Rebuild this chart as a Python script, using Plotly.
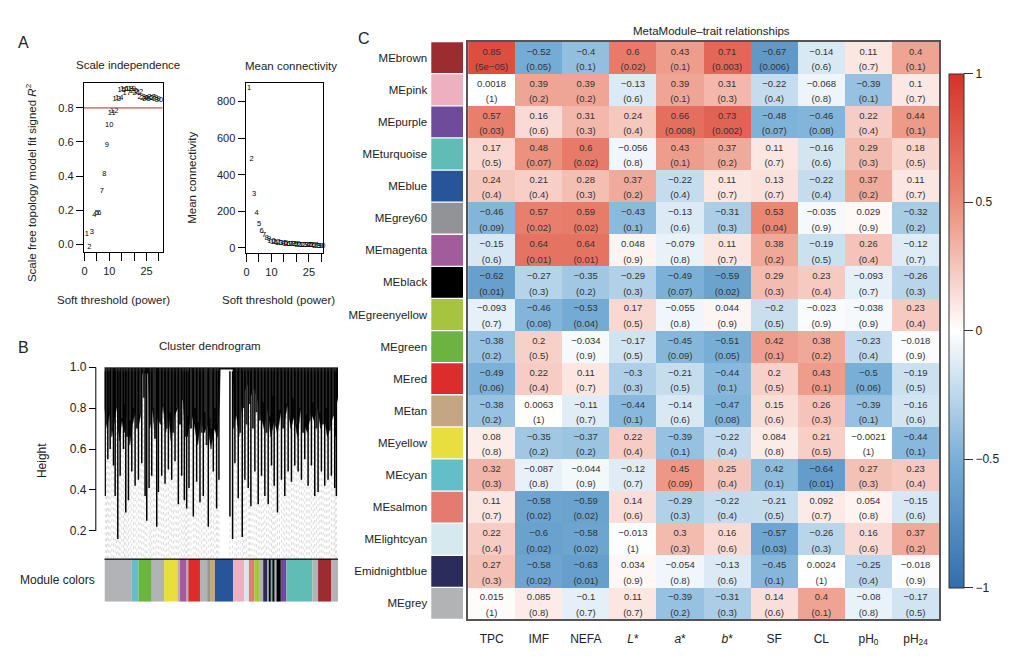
import plotly.graph_objects as go

W, H = 1015, 664
FONT = "Liberation Sans, Arial, sans-serif"
TXT = "#222222"

# ---------------- Panel A data ----------------
powers = list(range(1, 31))
sft_r2 = [0.062, -0.015, 0.073, 0.17, 0.18, 0.185, 0.31, 0.41, 0.58, 0.70,
          0.77, 0.78, 0.85, 0.857, 0.905, 0.91, 0.886, 0.91, 0.912, 0.90,
          0.886, 0.89, 0.866, 0.857, 0.85, 0.86, 0.863, 0.857, 0.85, 0.845]
mean_k = [876, 484, 293, 190, 130, 90, 68, 54, 45, 36,
          32, 29, 27, 25, 23, 21, 20, 19, 18, 17,
          16, 15, 14, 13.5, 13, 12, 11.5, 11, 10.5, 10]
r2_cutoff = 0.8

# ---------------- Panel B data ----------------
leaf_x = [2, 10, 17, 27, 32, 40, 47, 57, 64, 72, 82, 92, 102, 112, 122, 127, 134, 142,
          157, 162, 172, 182, 192, 202, 212, 222, 232, 240, 247, 254, 267, 277, 287, 297,
          312, 327, 337, 344, 377, 385, 392, 402, 414, 422, 432, 440, 452, 462, 472, 482,
          492, 502, 510, 520, 532, 542, 552, 562, 572, 582, 592, 602, 612, 622, 632, 642,
          652, 662, 672, 682, 692, 697]
leaf_h = [0.37, 0.55, 0.60, 0.52, 0.37, 0.16, 0.47, 0.60, 0.29, 0.35, 0.49, 0.42, 0.45, 0.53,
          0.37, 0.25, 0.41, 0.47, 0.22, 0.39, 0.47, 0.43, 0.50, 0.45, 0.54, 0.33, 0.47, 0.35,
          0.31, 0.41, 0.27, 0.44, 0.34, 0.37, 0.22, 0.49, 0.31, 0.45, 0.27, 0.16, 0.53, 0.36,
          0.17, 0.45, 0.41, 0.32, 0.49, 0.33, 0.47, 0.37, 0.33, 0.52, 0.42, 0.29, 0.45, 0.37,
          0.49, 0.44, 0.52, 0.49, 0.45, 0.55, 0.42, 0.52, 0.37, 0.39, 0.49, 0.42, 0.45, 0.47,
          0.41, 0.37]
branch_x = [6, 13, 22, 36, 44, 52, 60, 68, 77, 87, 97, 107, 118, 138, 147, 152, 167, 177,
            187, 197, 207, 217, 227, 236, 244, 251, 260, 272, 282, 292, 302, 307, 318, 322,
            332, 340, 397, 408, 418, 427, 436, 446, 457, 467, 477, 487, 497, 506, 515, 526,
            537, 547, 557, 567, 577, 587, 597, 607, 617, 627, 637, 647, 657, 667, 677, 687, 694]
branch_h = [0.72, 0.78, 0.70, 0.80, 0.68, 0.75, 0.82, 0.66, 0.74, 0.80, 0.70, 0.77, 0.85,
            0.72, 0.80, 0.65, 0.74, 0.82, 0.70, 0.78, 0.68, 0.80, 0.72, 0.84, 0.66, 0.76,
            0.70, 0.80, 0.73, 0.68, 0.78, 0.62, 0.75, 0.70, 0.80, 0.72, 0.76, 0.68, 0.80,
            0.72, 0.82, 0.70, 0.78, 0.74, 0.83, 0.68, 0.76, 0.86, 0.72, 0.79, 0.70, 0.82,
            0.75, 0.85, 0.72, 0.80, 0.68, 0.77, 0.74, 0.83, 0.70, 0.78, 0.72, 0.80, 0.69,
            0.76, 0.66]
# lower edge of the dense black mass of merged branches
canopy_x = [0, 8, 15, 22, 30, 38, 45, 52, 60, 68, 76, 84, 92, 100, 108, 112, 132,
            136, 144, 152, 160, 168, 176, 184, 192, 200, 210, 220, 226, 232, 240, 250, 260,
            270, 280, 290, 300, 310, 320, 330, 340, 346, 348, 386,
            388, 396, 404, 412, 420, 430, 440, 450, 460, 470, 480, 490, 500, 510, 520, 530,
            540, 550, 560, 570, 580, 590, 600, 610, 620, 630, 640, 650, 660, 670, 680, 690, 702]
canopy_h = [0.80, 0.70, 0.78, 0.66, 0.75, 0.82, 0.64, 0.74, 0.68, 0.80, 0.62, 0.72, 0.78,
            0.70, 0.76, 0.97, 0.97,
            0.70, 0.80, 0.66, 0.76, 0.72, 0.82, 0.68, 0.78, 0.64, 0.76, 0.80, 0.95, 0.95,
            0.74, 0.66, 0.78, 0.72, 0.62, 0.75, 0.68, 0.72, 0.60, 0.70, 0.66, 0.85, 0.99, 0.99,
            0.70, 0.78, 0.66, 0.80, 0.88, 0.92, 0.86, 0.90, 0.84, 0.76, 0.70, 0.80, 0.66,
            0.74, 0.68, 0.78, 0.72, 0.82, 0.70, 0.76, 0.66, 0.80, 0.72, 0.68, 0.78, 0.74,
            0.80, 0.70, 0.76, 0.66, 0.72, 0.78, 0.85]
guide_bottom = 0.067

bar_colors = ["#b1b3b5", "#62bfc9", "#6cb33f", "#b1b3b5", "#e8df3e", "#b1b3b5", "#a35c9b",
              "#b1b3b5", "#dc2c2c", "#b1b3b5", "#929396", "#c4a584", "#28559a", "#eeb0c0",
              "#d5e9ef", "#e57a71", "#a7c43f", "#b1b3b5", "#2b2b5c", "#b1b3b5", "#000000",
              "#5fbdb5", "#000000", "#b1b3b5", "#000000", "#6f4c9b", "#5fbdb5", "#b1b3b5",
              "#9b2d30", "#b1b3b5"]
bar_widths = [82, 20, 40, 37, 40, 8, 20, 5, 35, 25, 5, 15, 55, 33, 14, 16, 17, 10, 13, 4, 6,
              7, 5, 5, 13, 17, 78, 17, 40, 20]

# ---------------- Panel C data ----------------
modules = ["MEbrown", "MEpink", "MEpurple", "MEturquoise", "MEblue", "MEgrey60", "MEmagenta",
           "MEblack", "MEgreenyellow", "MEgreen", "MEred", "MEtan", "MEyellow", "MEcyan",
           "MEsalmon", "MElightcyan", "Emidnightblue", "MEgrey"]
module_colors = ["#9b2d30", "#eeb0c0", "#6f4c9b", "#5fbdb5", "#28559a", "#929396", "#a35c9b",
                 "#000000", "#a7c43f", "#6cb33f", "#dc2c2c", "#c4a584", "#e8df3e", "#62bfc9",
                 "#e57a71", "#d5e9ef", "#2b2b5c", "#b1b3b5"]
traits = ["TPC", "IMF", "NEFA", "<i>L</i>*", "<i>a</i>*", "<i>b</i>*", "SF", "CL",
          "pH<sub>0</sub>", "pH<sub>24</sub>"]
corr = [
    [0.85, -0.52, -0.4, 0.6, 0.43, 0.71, -0.67, -0.14, 0.11, 0.4],
    [0.0018, 0.39, 0.39, -0.13, 0.39, 0.31, -0.22, -0.068, -0.39, 0.1],
    [0.57, 0.16, 0.31, 0.24, 0.66, 0.73, -0.48, -0.46, 0.22, 0.44],
    [0.17, 0.48, 0.6, -0.056, 0.43, 0.37, 0.11, -0.16, 0.29, 0.18],
    [0.24, 0.21, 0.28, 0.37, -0.22, 0.11, 0.13, -0.22, 0.37, 0.11],
    [-0.46, 0.57, 0.59, -0.43, -0.13, -0.31, 0.53, -0.035, 0.029, -0.32],
    [-0.15, 0.64, 0.64, 0.048, -0.079, 0.11, 0.38, -0.19, 0.26, -0.12],
    [-0.62, -0.27, -0.35, -0.29, -0.49, -0.59, 0.29, 0.23, -0.093, -0.26],
    [-0.093, -0.46, -0.53, 0.17, -0.055, 0.044, -0.2, -0.023, -0.038, 0.23],
    [-0.38, 0.2, -0.034, -0.17, -0.45, -0.51, 0.42, 0.38, -0.23, -0.018],
    [-0.49, 0.22, 0.11, -0.3, -0.21, -0.44, 0.2, 0.43, -0.5, -0.19],
    [-0.38, 0.0063, -0.11, -0.44, -0.14, -0.47, 0.15, 0.26, -0.39, -0.16],
    [0.08, -0.35, -0.37, 0.22, -0.39, -0.22, 0.084, 0.21, -0.0021, -0.44],
    [0.32, -0.087, -0.044, -0.12, 0.45, 0.25, 0.42, -0.64, 0.27, 0.23],
    [0.11, -0.58, -0.59, 0.14, -0.29, -0.22, -0.21, 0.092, 0.054, -0.15],
    [0.22, -0.6, -0.58, -0.013, 0.3, 0.16, -0.57, -0.26, 0.16, 0.37],
    [0.27, -0.58, -0.63, 0.034, -0.054, -0.13, -0.45, 0.0024, -0.25, -0.018],
    [0.015, 0.085, -0.1, 0.11, -0.39, -0.31, 0.14, 0.4, -0.08, -0.17],
]
pvals = [
    [5e-05, 0.05, 0.1, 0.02, 0.1, 0.003, 0.006, 0.6, 0.7, 0.1],
    [1, 0.2, 0.2, 0.6, 0.1, 0.3, 0.4, 0.8, 0.1, 0.7],
    [0.03, 0.6, 0.3, 0.4, 0.008, 0.002, 0.07, 0.08, 0.4, 0.1],
    [0.5, 0.07, 0.02, 0.8, 0.1, 0.2, 0.7, 0.6, 0.3, 0.5],
    [0.4, 0.4, 0.3, 0.2, 0.4, 0.7, 0.7, 0.4, 0.2, 0.7],
    [0.09, 0.02, 0.02, 0.1, 0.6, 0.3, 0.04, 0.9, 0.9, 0.2],
    [0.6, 0.01, 0.01, 0.9, 0.8, 0.7, 0.2, 0.5, 0.4, 0.7],
    [0.01, 0.3, 0.2, 0.3, 0.07, 0.02, 0.3, 0.4, 0.7, 0.3],
    [0.7, 0.08, 0.04, 0.5, 0.8, 0.9, 0.5, 0.9, 0.9, 0.4],
    [0.2, 0.5, 0.9, 0.5, 0.09, 0.05, 0.1, 0.2, 0.4, 0.9],
    [0.06, 0.4, 0.7, 0.3, 0.5, 0.1, 0.5, 0.1, 0.06, 0.5],
    [0.2, 1, 0.7, 0.1, 0.6, 0.08, 0.6, 0.3, 0.1, 0.6],
    [0.8, 0.2, 0.2, 0.4, 0.1, 0.4, 0.8, 0.5, 1, 0.1],
    [0.3, 0.8, 0.9, 0.7, 0.09, 0.4, 0.1, 0.01, 0.3, 0.4],
    [0.7, 0.02, 0.02, 0.6, 0.3, 0.4, 0.5, 0.7, 0.8, 0.6],
    [0.4, 0.02, 0.02, 1, 0.3, 0.6, 0.03, 0.3, 0.6, 0.2],
    [0.3, 0.02, 0.01, 0.9, 0.8, 0.6, 0.1, 1, 0.4, 0.9],
    [1, 0.8, 0.7, 0.7, 0.2, 0.3, 0.6, 0.1, 0.8, 0.5],
]
# cell whose fill colour differs from its printed value in the source figure
fill_override = [("MEcyan", "SF", -0.42)]
trait_keys = ["TPC", "IMF", "NEFA", "L*", "a*", "b*", "SF", "CL", "pH0", "pH24"]
colorscale = [[0.0, "rgb(50,110,172)"], [0.25, "rgb(120,175,215)"], [0.5, "rgb(255,255,255)"],
              [0.75, "rgb(235,140,120)"], [1.0, "rgb(215,50,40)"]]


def dx(a, b):
    return [a / W, b / W]


def dy(top, bottom):
    return [1 - bottom / H, 1 - top / H]


def fmt(v):
    return f"{v:g}".replace("-", "\u2212")


fig = go.Figure()

# ---- Panel A ----
fig.add_trace(go.Scatter(x=powers, y=sft_r2, mode="text", text=[str(p) for p in powers],
                         textfont=dict(size=7.5, color="black", family=FONT),
                         xaxis="x", yaxis="y", cliponaxis=False, hoverinfo="skip"))
fig.add_trace(go.Scatter(x=powers, y=mean_k, mode="text", text=[str(p) for p in powers],
                         textfont=dict(size=7.5, color="black", family=FONT),
                         xaxis="x2", yaxis="y2", cliponaxis=False, hoverinfo="skip"))

# ---- Panel B dendrogram ----
gx, gy = [], []
for x, h in list(zip(leaf_x, leaf_h)) + list(zip(branch_x, branch_h)):
    gx += [x, x, None]
    gy += [h, guide_bottom, None]
fig.add_trace(go.Scatter(x=gx, y=gy, mode="lines", line=dict(color="#c4c4c4", width=0.6, dash="dot"),
                         xaxis="x3", yaxis="y3", hoverinfo="skip"))
fig.add_trace(go.Scatter(x=[0] + canopy_x + [702], y=[1.0] + canopy_h + [1.0], mode="lines",
                         fill="toself", fillcolor="#0a0a0a", line=dict(color="#0a0a0a", width=0.5),
                         xaxis="x3", yaxis="y3", hoverinfo="skip"))
bx, by = [], []
for x, h in zip(branch_x, branch_h):
    bx += [x, x, None]
    by += [1.0, h, None]
fig.add_trace(go.Scatter(x=bx, y=by, mode="lines", line=dict(color="#2a2a2a", width=2.0),
                         xaxis="x3", yaxis="y3", hoverinfo="skip"))
lx, ly = [], []
for x, h in zip(leaf_x, leaf_h):
    lx += [x, x, None]
    ly += [0.98, h, None]
fig.add_trace(go.Scatter(x=lx, y=ly, mode="lines", line=dict(color="#000000", width=1.5),
                         xaxis="x3", yaxis="y3", hoverinfo="skip"))
fig.add_trace(go.Scatter(x=[0, 702], y=[1.0, 1.0], mode="lines", line=dict(color="#666666", width=1.5),
                         xaxis="x3", yaxis="y3", hoverinfo="skip"))

starts = []
acc = 0
for w_ in bar_widths:
    starts.append(acc)
    acc += w_
fig.add_trace(go.Bar(orientation="h", base=starts, x=bar_widths, y=[0] * len(bar_widths),
                     marker=dict(color=bar_colors, line=dict(width=0)), width=1,
                     xaxis="x4", yaxis="y4", hoverinfo="skip"))

# ---- Panel C ----
fig.add_trace(go.Bar(orientation="h", x=[1] * len(modules), y=list(range(len(modules))),
                     marker=dict(color=module_colors, line=dict(width=0)), width=0.96,
                     xaxis="x5", yaxis="y5", hoverinfo="skip"))

fill = [row[:] for row in corr]
for m, t, v in fill_override:
    fill[modules.index(m)][trait_keys.index(t)] = v

fig.add_trace(go.Heatmap(z=fill, x=list(range(len(traits))), y=list(range(len(modules))),
                         zmin=-1, zmax=1, colorscale=colorscale, showscale=True,
                         xaxis="x6", yaxis="y6", hoverinfo="skip",
                         colorbar=dict(x=949 / W, xanchor="left", xpad=0, ypad=0,
                                       y=1 - 327 / H, yanchor="middle", len=514, lenmode="pixels",
                                       thickness=15, thicknessmode="pixels",
                                       outlinecolor="#333333", outlinewidth=1,
                                       ticks="outside", ticklen=9, tickcolor="#333333",
                                       tickvals=[-1, -0.5, 0, 0.5, 1],
                                       ticktext=["\u22121", "\u22120.5", "0", "0.5", "1"],
                                       tickfont=dict(size=12, color=TXT, family=FONT))))

vx, vy, vt, pxs, pys, pt = [], [], [], [], [], []
for i in range(len(modules)):
    for j in range(len(traits)):
        vx.append(j); vy.append(i - 0.17); vt.append(fmt(corr[i][j]))
        pxs.append(j); pys.append(i + 0.31); pt.append("(" + fmt(pvals[i][j]) + ")")
fig.add_trace(go.Scatter(x=vx, y=vy, text=vt, mode="text",
                         textfont=dict(size=9.5, color="#333333", family=FONT),
                         xaxis="x6", yaxis="y6", hoverinfo="skip"))
fig.add_trace(go.Scatter(x=pxs, y=pys, text=pt, mode="text",
                         textfont=dict(size=9.5, color="#333333", family=FONT),
                         xaxis="x6", yaxis="y6", hoverinfo="skip"))

box = dict(showgrid=False, zeroline=False, showline=True, linecolor="black", linewidth=1,
           mirror=True, ticks="outside", tickcolor="black",
           tickfont=dict(size=11, color=TXT, family=FONT))

annotations = []


def ann(text, x, y, size=12, angle=0):
    annotations.append(dict(text=text, x=x / W, y=1 - y / H, xref="paper", yref="paper",
                            xanchor="center", yanchor="middle",
                            showarrow=False, textangle=angle,
                            font=dict(size=size, color=TXT, family=FONT)))


ann("A", 22, 36, size=16)
ann("B", 22, 344, size=16)
ann("C", 363, 32, size=16)
ann("Scale independence", 126, 59, size=11.5)
ann("Mean connectivity", 290, 60, size=11.5)
ann("Scale free topology model fit signed <i>R</i><sup>2</sup>", 29, 177, size=11.5, angle=-90)
ann("Mean connectivity", 191, 173, size=11.5, angle=-90)
ann("Soft threshold (power)", 112, 296, size=11.5)
ann("Soft threshold (power)", 277, 296, size=11.5)
ann("Cluster dendrogram", 208, 343, size=11.5)
ann("Height", 40, 458, size=12, angle=-90)
ann("Module colors", 56, 579, size=12)
ann("MetaModule\u2013trait relationships", 711, 24, size=11.5)

shapes = [
    dict(type="line", xref="x domain", yref="y", x0=0, x1=1, y0=r2_cutoff, y1=r2_cutoff,
         line=dict(color="#e0484f", width=1.2)),
    dict(type="line", xref="paper", yref="y3", x0=94 / W, x1=94 / W, y0=0.2, y1=1.0,
         line=dict(color="black", width=1)),
    dict(type="line", xref="x4 domain", yref="y4 domain", x0=0, x1=1, y0=1, y1=1,
         line=dict(color="black", width=1.2)),
]

fig.update_layout(
    width=W, height=H, margin=dict(l=0, r=0, t=0, b=0), autosize=False,
    paper_bgcolor="white", plot_bgcolor="white", showlegend=False,
    font=dict(family=FONT, color=TXT), barmode="overlay",
    annotations=annotations, shapes=shapes,
    xaxis=dict(domain=dx(82, 161), range=[-0.25, 31.5], anchor="y", ticklen=8,
               tickvals=[0, 5, 10, 15, 20, 25, 30], ticktext=["0", "", "10", "", "", "25", ""], **box),
    yaxis=dict(domain=dy(77, 248), range=[-0.048, 0.945], anchor="x", ticklen=7,
               tickvals=[0, 0.2, 0.4, 0.6, 0.8], ticktext=["0.0", "0.2", "0.4", "0.6", "0.8"], **box),
    xaxis2=dict(domain=dx(244, 322), range=[-0.4, 30.8], anchor="y2", ticklen=8,
                tickvals=[0, 5, 10, 15, 20, 25, 30], ticktext=["0", "", "10", "", "", "25", ""], **box),
    yaxis2=dict(domain=dy(77, 249), range=[-31, 901], anchor="x2", ticklen=7,
                tickvals=[0, 200, 400, 600, 800], **box),
    xaxis3=dict(domain=dx(102.7, 336.7), range=[0, 702], anchor="y3", visible=False),
    yaxis3=dict(domain=dy(364, 557), range=[guide_bottom, 1.0], anchor="free", position=94 / W,
                showgrid=False, zeroline=False, showline=False, ticks="outside", ticklen=7,
                tickcolor="black", tickvals=[0.2, 0.4, 0.6, 0.8, 1.0],
                ticktext=["0.2", "0.4", "0.6", "0.8", "1.0"],
                tickfont=dict(size=12, color=TXT, family=FONT)),
    xaxis4=dict(domain=dx(102.7, 336.7), range=[0, 702], anchor="y4", visible=False),
    yaxis4=dict(domain=dy(558, 601), range=[-0.5, 0.5], anchor="x4", visible=False),
    xaxis5=dict(domain=dx(430, 462), range=[0, 1], anchor="y5", visible=False),
    yaxis5=dict(domain=dy(35, 619), range=[17.5, -0.5], anchor="x5", showgrid=False,
                zeroline=False, showline=False, ticks="", tickvals=list(range(len(modules))),
                ticktext=modules, ticklabelstandoff=3,
                tickfont=dict(size=11.5, color=TXT, family=FONT)),
    xaxis6=dict(domain=dx(467, 939), range=[-0.5, 9.5], anchor="y6", showgrid=False,
                zeroline=False, showline=True, mirror=True, linecolor="#555555", linewidth=1.5,
                ticks="", tickvals=list(range(len(traits))), ticktext=traits,
                ticklabelstandoff=7, tickfont=dict(size=12, color=TXT, family=FONT)),
    yaxis6=dict(domain=dy(35, 619), range=[17.5, -0.5], anchor="x6", showgrid=False,
                zeroline=False, showline=True, mirror=True, linecolor="#555555", linewidth=1.5,
                showticklabels=False, ticks=""),
)

fig.write_html("out.html")
